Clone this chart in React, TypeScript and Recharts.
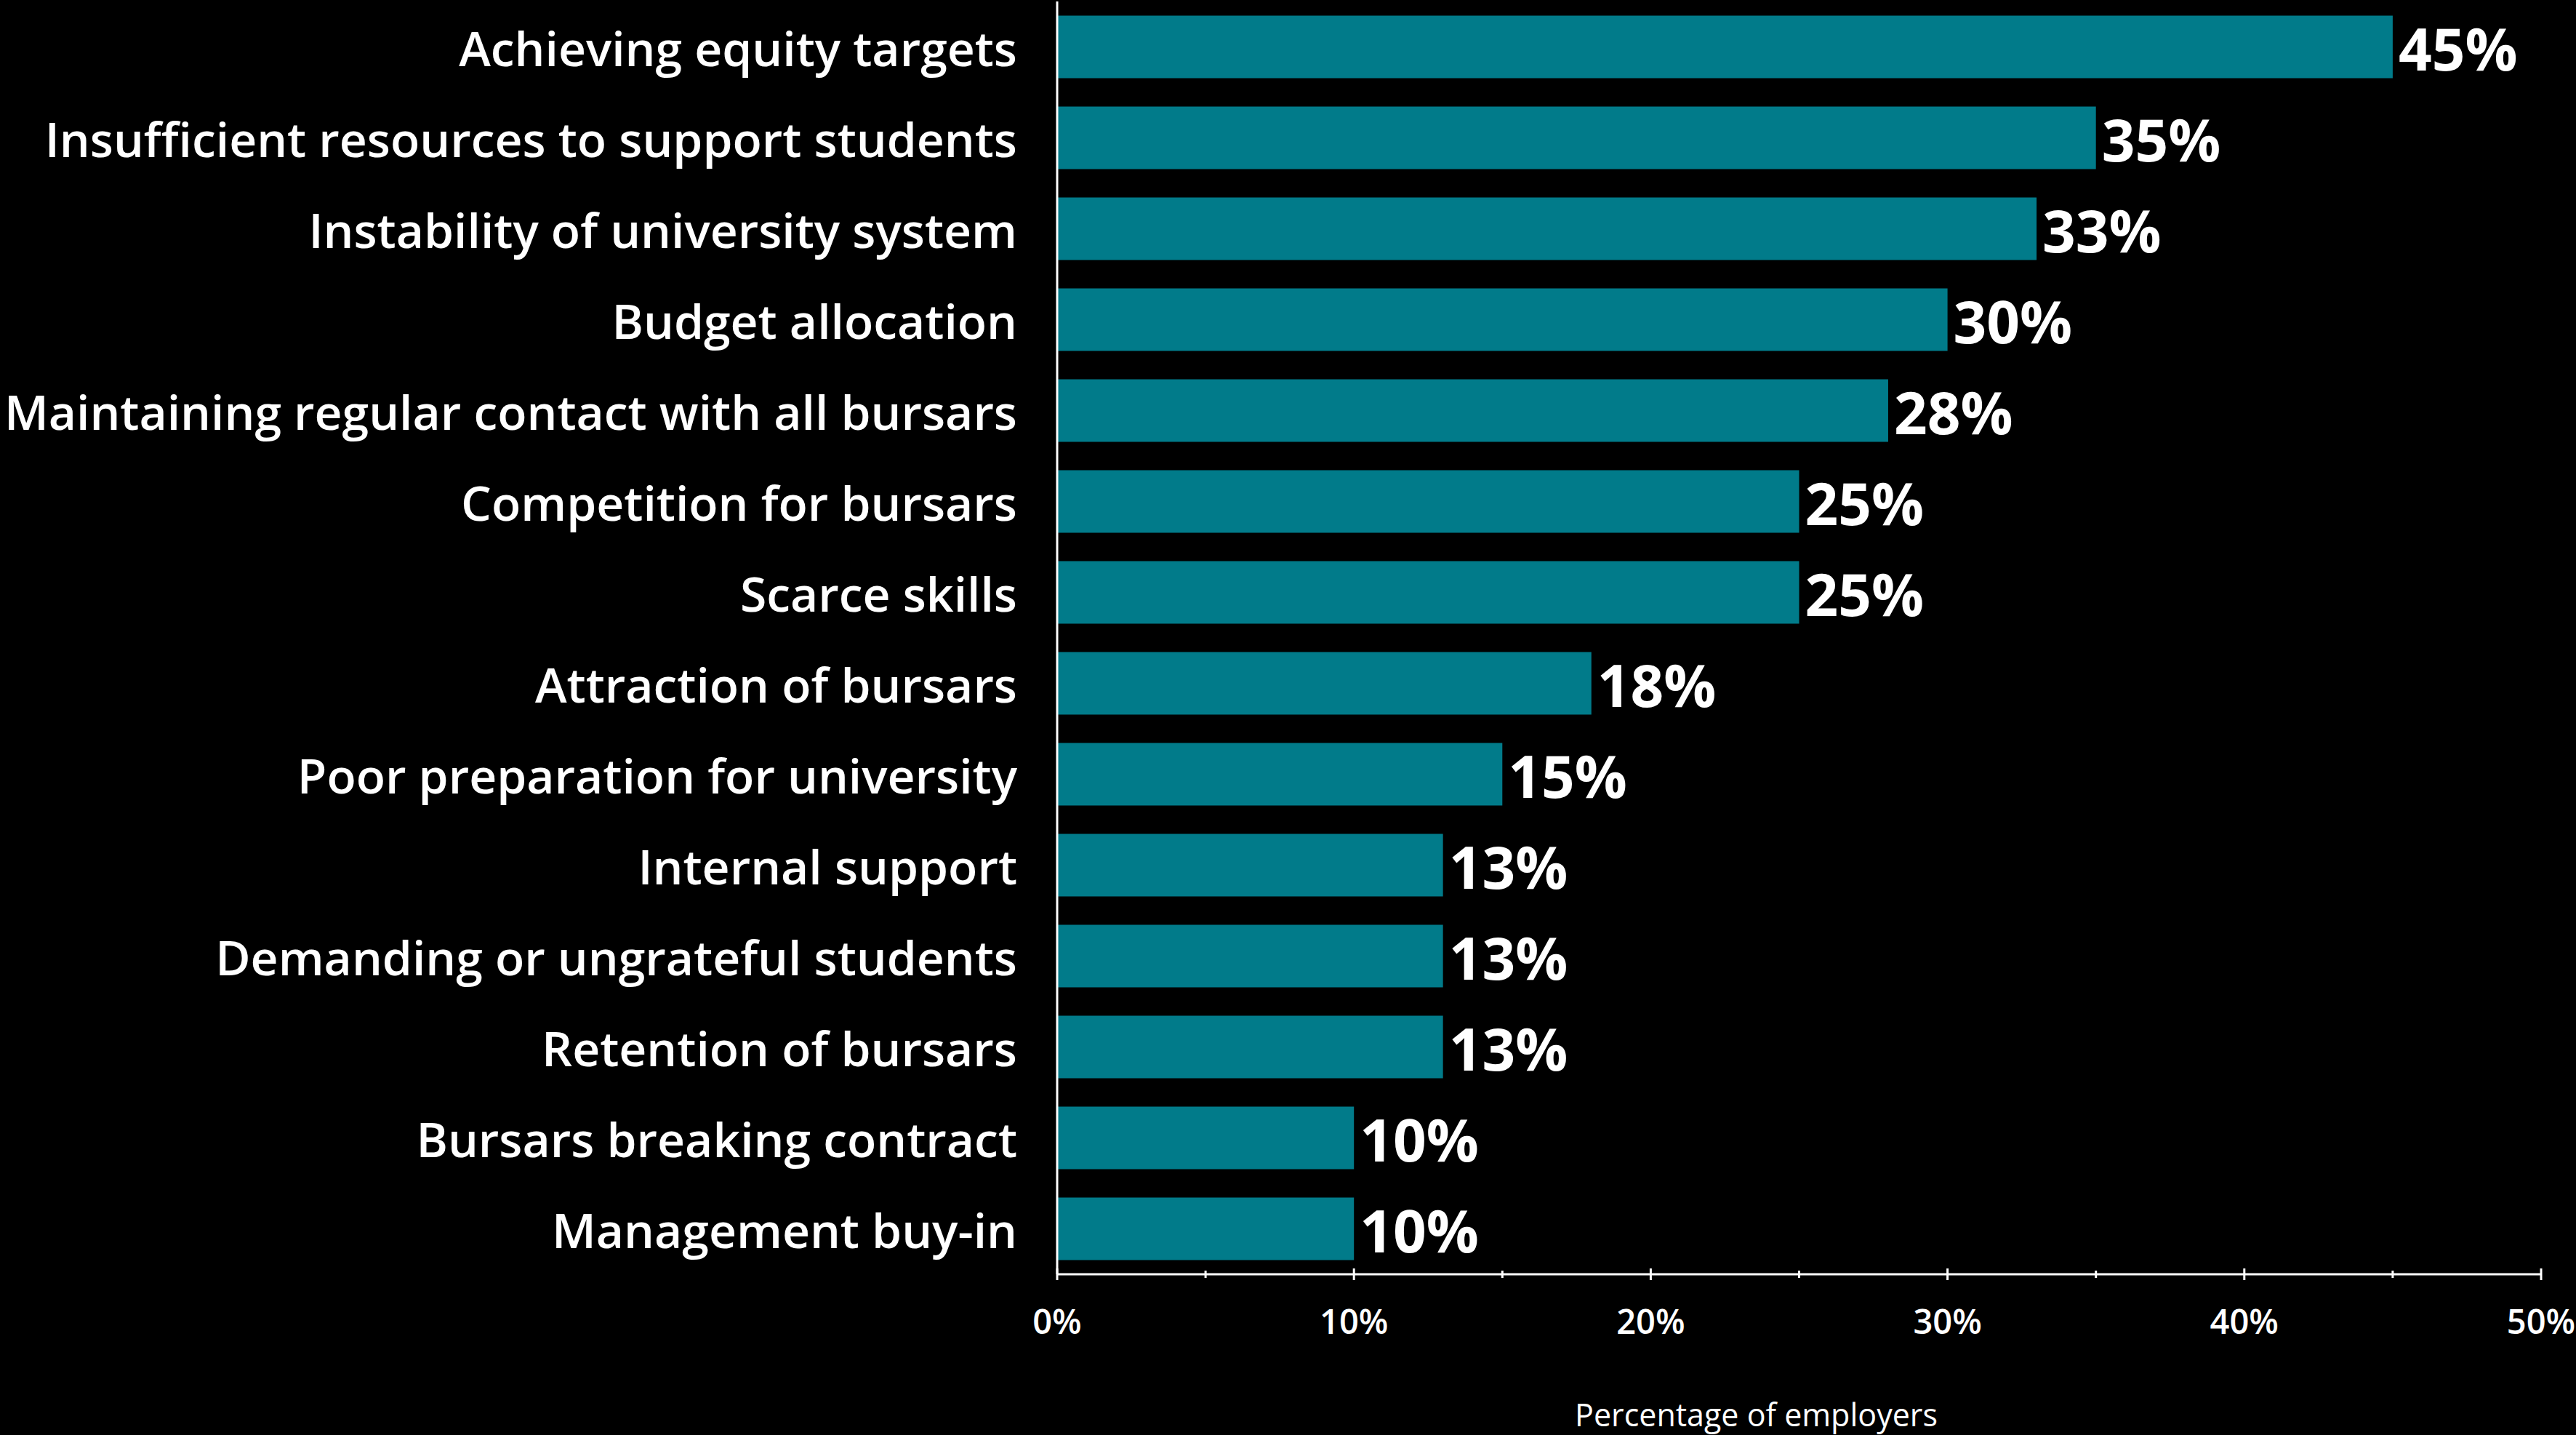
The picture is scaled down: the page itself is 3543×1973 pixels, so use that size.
import { BarChart, Bar, XAxis, YAxis, LabelList, Label } from 'recharts';

const categories = [
  'Achieving equity targets',
  'Insufficient resources to support students',
  'Instability of university system',
  'Budget allocation',
  'Maintaining regular contact with all bursars',
  'Competition for bursars',
  'Scarce skills',
  'Attraction of bursars',
  'Poor preparation for university',
  'Internal support',
  'Demanding or ungrateful students',
  'Retention of bursars',
  'Bursars breaking contract',
  'Management buy-in',
];

const shares = [45, 35, 33, 30, 28, 25, 25, 18, 15, 13, 13, 13, 10, 10];

const xTicks = [0, 5, 10, 15, 20, 25, 30, 35, 40, 45, 50];

const data = categories.map((name, i) => ({ name, value: shares[i] }));

const FONT = '"Open Sans", "Noto Sans", sans-serif';
const BAR_COLOR = '#017b8a';

const XTick = (props: any) => {
  const { x, y, payload } = props;
  const major = payload.value % 10 === 0;
  const half = major ? 8 : 5;
  return (
    <g>
      <line x1={x} x2={x} y1={y - half} y2={y + half} stroke='#fff' strokeWidth={3} />
      {major && (
        <text
          x={x}
          y={y + 82}
          textAnchor='middle'
          fill='#fff'
          fontFamily={FONT}
          fontWeight={600}
          fontSize={47}
        >
          {`${payload.value}%`}
        </text>
      )}
    </g>
  );
};

const YTick = (props: any) => {
  const { x, y, payload } = props;
  return (
    <text
      x={x}
      y={y}
      dy={26}
      textAnchor='end'
      fill='#fff'
      fontFamily={FONT}
      fontWeight={600}
      fontSize={66}
    >
      {payload.value}
    </text>
  );
};

export default function App() {
  return (
    <div
      style={{
        position: 'absolute',
        left: 0,
        top: 0,
        width: 3543,
        height: 1973,
        background: '#000',
      }}
    >
      <BarChart
        layout='vertical'
        width={3543}
        height={1973}
        data={data}
        margin={{ top: 2, right: 48, bottom: 0, left: 0 }}
        barCategoryGap='15.5%'
      >
        <XAxis
          type='number'
          domain={[0, 50]}
          ticks={xTicks}
          interval={0}
          tickSize={0}
          tickMargin={0}
          tickLine={false}
          axisLine={{ stroke: '#fff', strokeWidth: 3 }}
          tick={<XTick />}
          height={221}
        >
          <Label
            content={(p: any) => {
              const vb = p.viewBox;
              return (
                <text
                  x={vb.x + vb.width / 2 - 59}
                  y={vb.y + 209}
                  textAnchor='middle'
                  fill='#fff'
                  fontFamily={FONT}
                  fontSize={43}
                >
                  Percentage of employers
                </text>
              );
            }}
          />
        </XAxis>
        <YAxis
          type='category'
          dataKey='name'
          width={1454}
          interval={0}
          tickLine={false}
          tickSize={6}
          tickMargin={49}
          axisLine={{ stroke: '#fff', strokeWidth: 3 }}
          tick={<YTick />}
        />
        <Bar dataKey='value' fill={BAR_COLOR} isAnimationActive={false}>
          <LabelList
            dataKey='value'
            position='right'
            offset={8}
            formatter={(v: any) => `${v}%`}
            fill='#fff'
            fontFamily={FONT}
            fontWeight={700}
            fontSize={80}
            dy={4}
          />
        </Bar>
      </BarChart>
    </div>
  );
}
